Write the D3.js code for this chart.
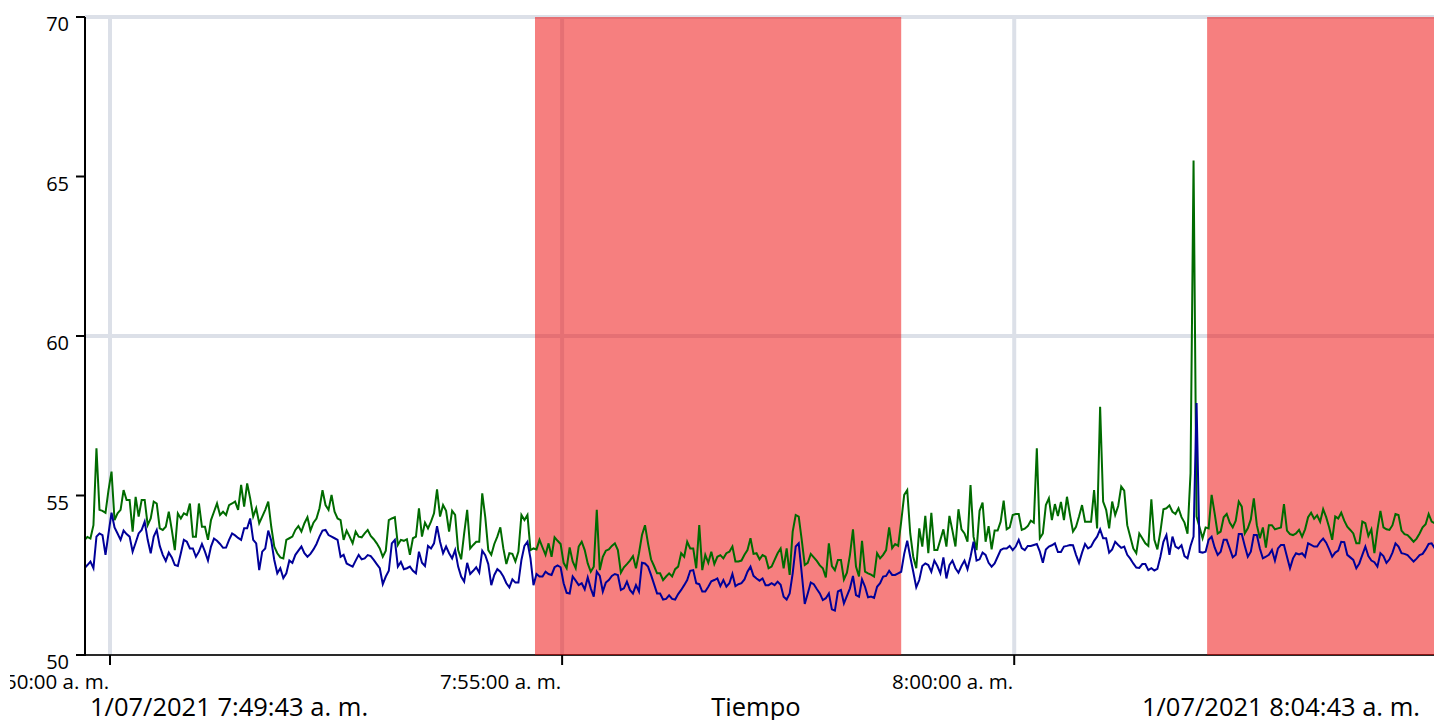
<!DOCTYPE html>
<html><head><meta charset="utf-8">
<script src="https://cdn.jsdelivr.net/npm/d3@7"></script>
<style>html,body{margin:0;padding:0;background:#fff;overflow:hidden}svg{display:block}</style>
</head><body>
<svg id="chart" width="1434" height="720"></svg>
<script>
// ---- data ----
const startTime = "2021-07-01 07:49:43";
const endTime = "2021-07-01 08:04:43";
const sampleSeconds = 2;
const yTicks = [50, 55, 60, 65, 70];
const yGridValues = [60, 70];
const xTickMinutes = 5;
const xTitle = "Tiempo";
const redBandStarts = ["2021-07-01 07:54:42", "2021-07-01 08:02:08"];
const redBandEnds = ["2021-07-01 07:58:45", "2021-07-01 08:04:43"];

const greenValues = [
53.6,53.7,53.65,54.07,56.48,54.55,54.52,54.46,55.17,55.75,
54.23,54.44,54.55,55.17,54.86,54.86,53.87,54.96,54.34,54.86,
54.86,54.07,54.28,54.81,54.75,53.97,53.92,54.02,54.49,53.92,
53.29,54.44,54.28,54.44,54.39,54.75,53.71,53.71,54.75,54.02,
54.02,53.61,54.23,54.49,54.75,54.39,54.49,54.39,54.7,54.75,
54.81,54.55,55.33,54.65,55.38,54.91,54.34,54.6,54.13,54.34,
54.55,54.81,54.02,53.4,53.19,53.06,53.03,53.61,53.66,53.71,
53.92,54.04,53.87,54.13,54.32,53.9,54.15,54.28,54.6,55.17,
54.7,54.55,55.02,54.49,54.28,54.23,53.61,53.9,53.71,53.5,
53.87,53.71,53.69,53.81,53.92,53.73,53.63,53.5,53.34,53.08,
53.27,54.23,54.28,54.32,53.45,53.61,53.58,53.63,53.14,53.66,
53.71,54.6,53.71,54.15,
53.97,54.18,54.44,55.19,54.34,54.7,54.52,53.87,54.52,54.39,
53.29,53.0,53.81,54.55,53.34,53.45,53.55,53.55,55.07,54.32,
53.29,53.14,53.48,53.71,54.0,53.34,52.85,53.19,53.17,52.93,
53.24,54.39,54.23,54.39,53.29,53.34,53.31,53.61,53.37,53.14,
53.5,53.08,53.69,53.58,53.48,52.89,52.72,53.37,52.93,52.72,
53.4,53.55,53.29,52.87,52.61,52.77,54.55,52.66,53.08,53.27,
53.31,53.42,53.5,53.29,52.58,52.75,52.85,52.96,53.1,52.72,
53.19,53.76,54.07,53.5,53.0,52.79,52.56,52.56,52.35,52.46,
52.56,52.46,52.69,52.77,53.19,53.08,53.55,53.34,53.34,52.72,
54.07,52.66,53.14,52.89,53.24,52.85,53.08,53.13,53.03,53.19,
53.24,53.4,52.93,52.93,52.96,53.14,53.29,53.66,53.17,53.19,
53.0,
53.13,53.08,52.72,52.77,52.98,53.19,53.34,52.72,53.34,52.51,
53.87,54.39,54.34,53.61,52.82,52.89,53.17,53.06,52.95,52.81,
52.72,52.43,53.5,52.79,52.66,52.98,52.98,52.37,52.58,53.14,
53.94,52.77,52.46,53.58,52.61,52.56,52.52,52.46,53.19,53.03,
53.14,53.29,54.0,53.35,53.48,53.42,54.18,55.02,55.17,53.81,
53.08,52.72,53.97,53.4,54.36,53.19,54.46,53.29,53.29,53.61,
53.94,53.4,54.36,53.9,53.4,54.57,53.94,53.81,53.55,55.33,
53.71,53.29,54.52,54.78,53.55,54.04,53.31,53.9,53.9,54.18,
54.84,53.94,54.0,54.39,54.42,54.42,53.92,53.96,54.04,54.21,
54.15,56.48,53.66,53.81,54.7,54.91,54.23,54.73,54.36,54.8,
54.23,54.96,54.39,53.87,54.02,54.34,54.7,54.18,54.18,54.18,
55.17,
53.97,57.78,54.81,54.55,53.97,54.81,54.39,54.67,55.28,55.15,
54.07,53.71,53.34,53.19,53.81,53.66,53.5,53.42,54.88,53.61,
53.31,53.87,54.57,54.6,54.69,54.49,54.42,54.6,54.32,54.15,
53.8,55.7,65.5,54.34,54.0,53.66,54.0,53.97,55.02,54.44,
53.81,53.87,54.32,54.42,54.15,54.0,54.21,54.81,54.65,53.81,
53.97,54.25,54.91,54.07,53.66,54.0,53.37,54.07,54.07,53.94,
53.97,54.0,54.73,53.9,53.79,53.76,53.81,53.92,53.71,53.94,
54.32,54.46,54.27,54.38,54.18,54.57,54.32,54.0,53.61,54.34,
54.28,54.46,54.21,54.02,53.92,53.81,53.5,53.5,54.18,54.13,
53.73,53.94,53.19,53.92,54.52,54.0,53.94,53.92,54.07,54.42,
54.39,53.9,53.79,53.76,53.66,53.55,53.65,53.81,54.0,54.1,
54.42,54.18,54.13,54.1,54.15
];

const blueValues = [
52.72,52.82,52.93,52.72,53.71,53.81,53.76,53.14,53.81,54.46,
54.0,53.81,53.61,53.9,53.79,53.71,53.24,53.52,53.81,53.92,
54.18,53.61,53.19,53.71,53.92,53.42,53.14,52.95,53.21,53.06,
52.82,52.79,53.19,53.61,53.55,53.34,53.34,53.08,53.24,53.48,
53.24,52.96,53.4,53.65,53.58,53.48,53.36,53.37,53.61,53.81,
53.75,53.67,53.61,53.97,53.97,54.28,53.61,53.5,52.66,53.24,
53.34,53.9,53.58,52.98,52.56,52.72,52.41,52.56,52.96,52.89,
53.14,53.27,53.4,53.19,53.08,53.17,53.31,53.48,53.71,53.9,
53.92,53.76,53.71,53.66,53.61,53.08,53.14,52.87,52.82,52.77,
52.96,53.14,53.0,53.03,53.13,53.1,52.98,52.85,52.72,52.22,
52.46,52.64,53.5,53.61,52.77,52.92,52.69,52.72,52.77,52.64,
52.56,53.24,52.89,52.79,
53.42,53.34,53.5,54.04,53.55,53.19,53.4,53.19,53.03,53.29,
52.77,52.46,52.3,52.89,52.54,52.64,52.75,52.58,53.27,53.13,
52.85,52.19,52.51,52.69,52.61,52.46,52.25,52.12,52.37,52.27,
52.27,52.98,53.42,53.55,53.03,52.19,52.54,52.46,52.46,52.61,
52.54,52.51,52.75,52.81,52.75,52.25,51.95,51.93,52.46,52.33,
52.19,52.25,52.06,52.43,52.09,51.83,52.61,52.48,51.99,52.27,
52.35,52.48,52.54,52.51,52.04,52.09,52.3,52.04,51.93,52.19,
51.99,52.89,52.87,52.77,52.51,52.22,51.93,51.93,51.74,51.76,
51.87,51.76,51.74,51.91,52.04,52.19,52.35,52.64,52.66,52.25,
52.22,51.99,51.99,52.14,52.31,52.35,52.4,52.16,52.35,52.14,
52.25,52.54,52.16,52.22,52.25,52.37,52.61,52.77,52.48,52.4,
52.33,
52.4,52.19,52.19,52.25,52.19,52.3,52.2,51.83,51.74,51.93,
52.56,53.4,53.5,52.56,51.6,51.93,52.27,52.22,52.07,51.93,
51.72,51.78,51.93,51.43,51.39,51.99,52.04,51.62,51.85,52.09,
52.48,51.88,51.83,52.37,52.14,51.81,51.83,51.79,52.14,52.25,
52.46,52.48,52.64,52.51,52.51,52.56,52.61,53.17,53.58,53.08,
52.61,52.12,52.35,52.79,52.87,52.82,52.61,52.96,52.79,52.56,
53.06,52.4,52.82,52.96,52.72,52.58,52.79,52.96,52.69,53.08,
53.55,52.96,53.0,53.21,53.14,52.89,52.77,52.87,53.08,53.29,
53.34,53.34,53.42,53.29,53.4,53.61,53.35,53.29,53.42,53.42,
53.45,53.48,53.24,52.89,53.31,53.4,53.44,53.5,53.23,53.23,
53.4,53.42,53.45,53.44,53.14,52.89,53.21,53.48,53.34,53.4,
53.58,
53.71,53.94,53.66,53.66,53.21,53.31,53.55,53.45,53.36,53.4,
53.14,53.02,52.87,52.74,52.73,52.85,52.85,52.66,52.72,52.65,
52.7,53.08,53.55,53.76,53.14,53.71,53.4,53.34,53.44,53.1,
53.03,53.42,53.71,57.9,53.23,53.21,53.24,53.61,53.71,53.37,
53.14,53.24,53.61,53.61,53.34,53.06,53.14,53.79,53.79,53.42,
53.08,53.24,53.76,53.76,53.34,53.03,53.08,53.14,53.29,52.96,
53.34,53.45,53.45,53.08,52.72,53.03,53.19,53.15,53.19,53.08,
53.5,53.45,53.4,53.4,53.55,53.65,53.52,53.31,53.08,53.21,
53.27,53.55,53.54,53.14,53.06,52.98,52.72,52.87,53.14,53.4,
53.1,52.96,52.91,52.77,53.19,53.1,52.89,53.0,53.21,53.5,
53.4,53.19,53.17,53.13,53.03,52.93,53.02,53.13,53.17,53.31,
53.48,53.5,53.35,53.1,53.2
];

// ---- chart ----
const W = 1434, H = 720;
const plotLeft = 85, plotTop = 17, plotBottom = 655;
const parse = d3.timeParse("%Y-%m-%d %H:%M:%S");
const t0 = parse(startTime), t1 = parse(endTime);
const times = greenValues.map((_, i) => d3.timeSecond.offset(t0, i * sampleSeconds));

const x = d3.scaleTime().domain([t0, t1]).range([84.4, 1440.7]);
const y = d3.scaleLinear().domain([yTicks[0], yTicks[yTicks.length - 1]]).range([plotBottom, plotTop]);

const svg = d3.select("#chart");
const font = "'Open Sans', 'Noto Sans', sans-serif";

const defs = svg.append("defs");
defs.append("clipPath").attr("id", "plotClip")
  .append("rect").attr("x", plotLeft).attr("y", plotTop - 1)
  .attr("width", W - plotLeft + 20).attr("height", plotBottom - plotTop + 1);
defs.append("clipPath").attr("id", "tickLabelClip")
  .append("rect").attr("x", 10).attr("y", plotBottom).attr("width", W).attr("height", 45);

const xTickVals = x.ticks(d3.timeMinute.every(xTickMinutes));
const gridColor = "#dce0e8";

// gridlines
svg.append("g").selectAll("line").data(xTickVals).join("line")
  .attr("x1", d => x(d)).attr("x2", d => x(d))
  .attr("y1", plotTop).attr("y2", plotBottom)
  .attr("stroke", gridColor).attr("stroke-width", 4);
svg.append("g").selectAll("line").data(yGridValues).join("line")
  .attr("x1", plotLeft).attr("x2", W)
  .attr("y1", d => y(d)).attr("y2", d => y(d))
  .attr("stroke", gridColor).attr("stroke-width", 4);

// bottom axis line
svg.append("line").attr("x1", plotLeft).attr("x2", W)
  .attr("y1", plotBottom).attr("y2", plotBottom)
  .attr("stroke", "#2a2a2a").attr("stroke-width", 2);

// red bands
svg.append("g").attr("clip-path", "url(#plotClip)")
  .selectAll("rect").data(redBandStarts.map((s, i) => [parse(s), parse(redBandEnds[i])])).join("rect")
  .attr("x", d => x(d[0])).attr("width", d => x(d[1]) - x(d[0]))
  .attr("y", plotTop).attr("height", plotBottom - plotTop)
  .attr("fill", "rgb(237,0,0)").attr("fill-opacity", 0.5);

// series
const line = d3.line().x((d, i) => x(times[i])).y(d => y(d));
const gLines = svg.append("g").attr("clip-path", "url(#plotClip)");
gLines.append("path").datum(greenValues).attr("d", line)
  .attr("fill", "none").attr("stroke", "#006b00").attr("stroke-width", 2);
gLines.append("path").datum(blueValues).attr("d", line)
  .attr("fill", "none").attr("stroke", "#000099").attr("stroke-width", 2);

// left axis
svg.append("line").attr("x1", plotLeft).attr("x2", plotLeft)
  .attr("y1", plotTop).attr("y2", plotBottom + 1)
  .attr("stroke", "#000").attr("stroke-width", 2);
const yAx = svg.append("g");
yAx.selectAll("line").data(yTicks).join("line")
  .attr("x1", 76).attr("x2", plotLeft).attr("y1", d => y(d)).attr("y2", d => y(d))
  .attr("stroke", "#000").attr("stroke-width", 2);
yAx.selectAll("text").data(yTicks).join("text")
  .attr("x", 69).attr("y", d => y(d) + 14)
  .attr("text-anchor", "end").attr("font-family", font).attr("font-size", 20)
  .attr("fill", "#000").text(d => d);

// bottom ticks
const fmtTick = d3.timeFormat("%-I:%M:%S");
const xAx = svg.append("g");
xAx.selectAll("line").data(xTickVals).join("line")
  .attr("x1", d => x(d)).attr("x2", d => x(d)).attr("y1", plotBottom).attr("y2", plotBottom + 10)
  .attr("stroke", "#000").attr("stroke-width", 2);
xAx.append("g").attr("clip-path", "url(#tickLabelClip)")
  .selectAll("text").data(xTickVals).join("text")
  .attr("x", d => x(d) - 1).attr("y", 689)
  .attr("text-anchor", "end").attr("font-family", font).attr("font-size", 20.5)
  .attr("fill", "#000").text(d => fmtTick(d) + " a. m.");

// range labels & title
const fmtFull = d3.timeFormat("%-d/%m/%Y %-I:%M:%S");
const titleSize = 25.5;
svg.append("text").attr("x", 90).attr("y", 716)
  .attr("font-family", font).attr("font-size", titleSize).attr("fill", "#000")
  .text(fmtFull(t0) + " a. m.");
svg.append("text").attr("x", 1420).attr("y", 716).attr("text-anchor", "end")
  .attr("font-family", font).attr("font-size", titleSize).attr("fill", "#000")
  .text(fmtFull(t1) + " a. m.");
svg.append("text").attr("x", 756).attr("y", 716).attr("text-anchor", "middle")
  .attr("font-family", font).attr("font-size", titleSize).attr("fill", "#000")
  .text(xTitle);
</script>
</body></html>
